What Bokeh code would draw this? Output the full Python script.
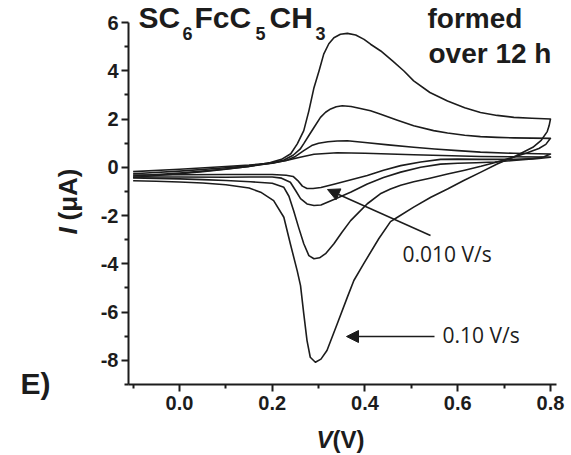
import math
from bokeh.plotting import figure
from bokeh.models import Range1d, FixedTicker, NumeralTickFormatter, Label, Arrow, NormalHead, LinearAxis
from bokeh.embed import file_html
from bokeh.resources import INLINE

# ---------------- data ----------------
# curve 1: 0.10 V/s
c1_fwd_v = [-0.100, -0.050, 0.000, 0.050, 0.100, 0.150, 0.196, 0.220, 0.240, 0.254, 0.268, 0.279, 0.290, 0.301,
            0.311, 0.322, 0.333, 0.347, 0.362, 0.380, 0.398, 0.412, 0.434, 0.460, 0.484, 0.505, 0.540, 0.578,
            0.615, 0.649, 0.685, 0.721, 0.760, 0.800]
c1_fwd_i = [-0.42, -0.34, -0.27, -0.18, -0.08, 0.04, 0.20, 0.33, 0.56, 0.97, 1.52, 2.34, 3.30, 4.00,
            4.69, 5.12, 5.37, 5.51, 5.55, 5.48, 5.30, 5.10, 4.82, 4.40, 3.99, 3.58, 3.10, 2.75,
            2.47, 2.27, 2.15, 2.07, 2.03, 2.00]
c1_rev_v = [0.800, 0.797, 0.793, 0.780, 0.762, 0.725, 0.685, 0.650, 0.613, 0.578, 0.542, 0.505, 0.470, 0.455,
            0.430, 0.397, 0.376, 0.362, 0.340, 0.318, 0.305, 0.293, 0.282, 0.275, 0.268, 0.261, 0.254, 0.239,
            0.225, 0.203, 0.175, 0.150, 0.100, 0.050, 0.000, -0.050, -0.100]
c1_rev_i = [2.00, 1.72, 1.48, 1.12, 0.83, 0.47, 0.14, -0.20, -0.55, -0.90, -1.24, -1.65, -2.07, -2.25,
            -2.95, -4.00, -4.69, -5.38, -6.49, -7.59, -7.95, -8.08, -7.87, -7.18, -6.07, -4.90, -4.30, -3.17,
            -2.07, -1.38, -1.03, -0.86, -0.72, -0.65, -0.61, -0.58, -0.56]

# curve 2
c2_fwd_v = [-0.100, -0.050, 0.000, 0.050, 0.100, 0.150, 0.200, 0.225, 0.245, 0.260, 0.268, 0.280, 0.290, 0.304,
            0.315, 0.326, 0.338, 0.351, 0.370, 0.390, 0.412, 0.434, 0.470, 0.505, 0.548, 0.578, 0.615, 0.649,
            0.685, 0.721, 0.760, 0.800]
c2_fwd_i = [-0.36, -0.30, -0.24, -0.16, -0.07, 0.04, 0.18, 0.30, 0.50, 0.75, 0.98, 1.35, 1.65, 2.07,
            2.28, 2.42, 2.51, 2.55, 2.52, 2.44, 2.34, 2.20, 1.95, 1.72, 1.52, 1.42, 1.33, 1.27,
            1.24, 1.22, 1.21, 1.20]
c2_rev_v = [0.800, 0.790, 0.775, 0.750, 0.720, 0.685, 0.650, 0.615, 0.578, 0.540, 0.505, 0.477, 0.455, 0.433,
            0.405, 0.385, 0.369, 0.350, 0.333, 0.315, 0.302, 0.290, 0.279, 0.268, 0.257, 0.246, 0.236, 0.225,
            0.200, 0.153, 0.100, 0.050, 0.000, -0.050, -0.100]
c2_rev_i = [1.20, 0.95, 0.78, 0.60, 0.42, 0.22, 0.04, -0.12, -0.28, -0.45, -0.60, -0.74, -0.90, -1.10,
            -1.51, -1.90, -2.21, -2.70, -3.17, -3.58, -3.75, -3.79, -3.66, -3.17, -2.50, -1.79, -1.20, -0.83,
            -0.66, -0.60, -0.55, -0.51, -0.48, -0.46, -0.44]

# curve 3
c3_fwd_v = [-0.100, 0.000, 0.100, 0.150, 0.200, 0.230, 0.250, 0.268, 0.285, 0.300, 0.320, 0.340, 0.362, 0.400,
            0.450, 0.505, 0.550, 0.600, 0.649, 0.720, 0.800]
c3_fwd_i = [-0.27, -0.16, -0.02, 0.06, 0.17, 0.28, 0.45, 0.69, 0.90, 1.00, 1.06, 1.09, 1.10, 1.03,
            0.93, 0.83, 0.76, 0.69, 0.63, 0.58, 0.55]
c3_rev_v = [0.800, 0.785, 0.760, 0.720, 0.680, 0.640, 0.600, 0.563, 0.520, 0.477, 0.440, 0.405, 0.370, 0.333,
            0.305, 0.290, 0.275, 0.261, 0.250, 0.239, 0.220, 0.200, 0.150, 0.100, 0.000, -0.100]
c3_rev_i = [0.55, 0.43, 0.35, 0.28, 0.22, 0.19, 0.17, 0.13, 0.00, -0.20, -0.42, -0.69, -1.02, -1.33,
            -1.56, -1.58, -1.52, -1.30, -0.95, -0.62, -0.45, -0.40, -0.40, -0.41, -0.40, -0.40]

# curve 4: 0.010 V/s
c4_fwd_v = [-0.100, 0.000, 0.100, 0.150, 0.200, 0.235, 0.260, 0.290, 0.340, 0.400, 0.505, 0.649, 0.800]
c4_fwd_i = [-0.18, -0.08, 0.03, 0.09, 0.18, 0.30, 0.42, 0.54, 0.60, 0.58, 0.52, 0.45, 0.42]
c4_rev_v = [0.800, 0.770, 0.720, 0.650, 0.600, 0.563, 0.520, 0.477, 0.440, 0.405, 0.370, 0.333, 0.305, 0.288,
            0.275, 0.265, 0.255, 0.245, 0.230, 0.200, 0.100, 0.000, -0.100]
c4_rev_i = [0.42, 0.36, 0.33, 0.33, 0.34, 0.33, 0.22, 0.07, -0.12, -0.34, -0.52, -0.70, -0.84, -0.88,
            -0.88, -0.78, -0.55, -0.38, -0.33, -0.30, -0.30, -0.31, -0.32]

x_ticks = [0.0, 0.2, 0.4, 0.6, 0.8]
x_minor = [-0.1, 0.1, 0.3, 0.5, 0.7]
y_ticks = [-8, -6, -4, -2, 0, 2, 4, 6]
y_minor = [-9, -7, -5, -3, -1, 1, 3, 5]

title_parts = ["SC", "6", "FcC", "5", "CH", "3"]
note_fast = "0.10 V/s"
note_slow = "0.010 V/s"

# ---------------- layout ----------------
W, H = 571, 455
L, R, T, B = 128, 556, 22, 384          # where the axes box sits on the canvas
X0, X1 = -0.11, 0.813                   # axis extents
Y0, Y1 = -9.0, 6.0
INK = "#1c1c1c"
FONT = "Liberation Sans"
BASE_SHIFT = 0.38                       # label anchor correction (fraction of font size)


def cx(px):
    return X0 + (px - L) / (R - L) * (X1 - X0)


def cy(py):
    return Y1 - (py - T) / (B - T) * (Y1 - Y0)


# the frame spans the whole canvas; the axes are pinned inside it so that
# every text annotation stays visible (annotations are clipped to the frame)
p = figure(width=W, height=H, x_range=Range1d(cx(0), cx(W)), y_range=Range1d(cy(H), cy(0)),
           output_backend="svg", toolbar_location=None,
           x_axis_location=None, y_axis_location=None, min_border=0)
p.outline_line_color = None
p.background_fill_color = "white"
p.border_fill_color = "white"
p.xgrid.visible = False
p.ygrid.visible = False

xax = LinearAxis(ticker=FixedTicker(ticks=x_ticks, minor_ticks=x_minor),
                 formatter=NumeralTickFormatter(format="0.0"),
                 fixed_location=Y0, bounds=(X0, X1))
yax = LinearAxis(ticker=FixedTicker(ticks=y_ticks, minor_ticks=y_minor),
                 formatter=NumeralTickFormatter(format="0"),
                 fixed_location=X0, bounds=(Y0, Y1))
for ax in (xax, yax):
    ax.axis_line_width = 2
    ax.axis_line_color = INK
    ax.major_tick_line_width = 2
    ax.minor_tick_line_width = 2
    ax.major_tick_line_color = INK
    ax.minor_tick_line_color = INK
    ax.major_tick_in = 0
    ax.major_tick_out = 7
    ax.minor_tick_in = 0
    ax.minor_tick_out = 4
    ax.major_label_text_font = FONT
    ax.major_label_text_font_style = "bold"
    ax.major_label_text_font_size = "20px"
    ax.major_label_text_color = INK
xax.major_label_standoff = 4
yax.major_label_standoff = 3
p.add_layout(xax, "below")
p.add_layout(yax, "left")

curves = [(c1_fwd_v, c1_fwd_i, c1_rev_v, c1_rev_i),
          (c2_fwd_v, c2_fwd_i, c2_rev_v, c2_rev_i),
          (c3_fwd_v, c3_fwd_i, c3_rev_v, c3_rev_i),
          (c4_fwd_v, c4_fwd_i, c4_rev_v, c4_rev_i)]
for fv, fi, rv, ri in curves:
    p.line(fv + rv, fi + ri, line_color=INK, line_width=1.6, line_join="round")


def lab(px, py, text, size, style="bold", angle=0.0, font=FONT):
    # px, py: left end of the text baseline on the canvas
    s = BASE_SHIFT * size
    if angle:
        px -= s
    else:
        py -= s
    p.add_layout(Label(x=cx(px), y=cy(py), text=text, text_font=font, text_font_size=f"{size}px",
                       text_font_style=style, text_color=INK, text_align="left",
                       text_baseline="alphabetic", angle=angle))


# title with subscripts
lab(138, 28, title_parts[0], 30)
lab(182, 40, title_parts[1], 18)
lab(194, 28, title_parts[2], 30)
lab(255, 40, title_parts[3], 18)
lab(269, 28, title_parts[4], 30)
lab(315, 40, title_parts[5], 18)

lab(427, 29, "formed", 28)
lab(428, 64, "over 12 h", 28)
lab(20, 394, "E)", 30)

# axis titles
lab(316, 448, "V", 24, "bold italic")
lab(332, 448, " (V)", 24, "bold")
lab(77, 234, "I", 26, "bold italic", angle=math.pi / 2)
lab(77, 220, " (\u03bcA)", 26, "bold", angle=math.pi / 2)

# annotations
lab(402, 261, note_slow, 21, "normal", font="Open Sans")
lab(442, 342, note_fast, 21, "normal", font="Open Sans")
p.add_layout(Arrow(end=NormalHead(size=12, fill_color=INK, line_color=INK),
                   x_start=cx(430), y_start=cy(235), x_end=cx(327), y_end=cy(189),
                   line_color=INK, line_width=1.5))
p.add_layout(Arrow(end=NormalHead(size=12, fill_color=INK, line_color=INK),
                   x_start=cx(434), y_start=cy(336), x_end=cx(346), y_end=cy(336),
                   line_color=INK, line_width=1.5))

open("out.html", "w").write(file_html(p, INLINE))
